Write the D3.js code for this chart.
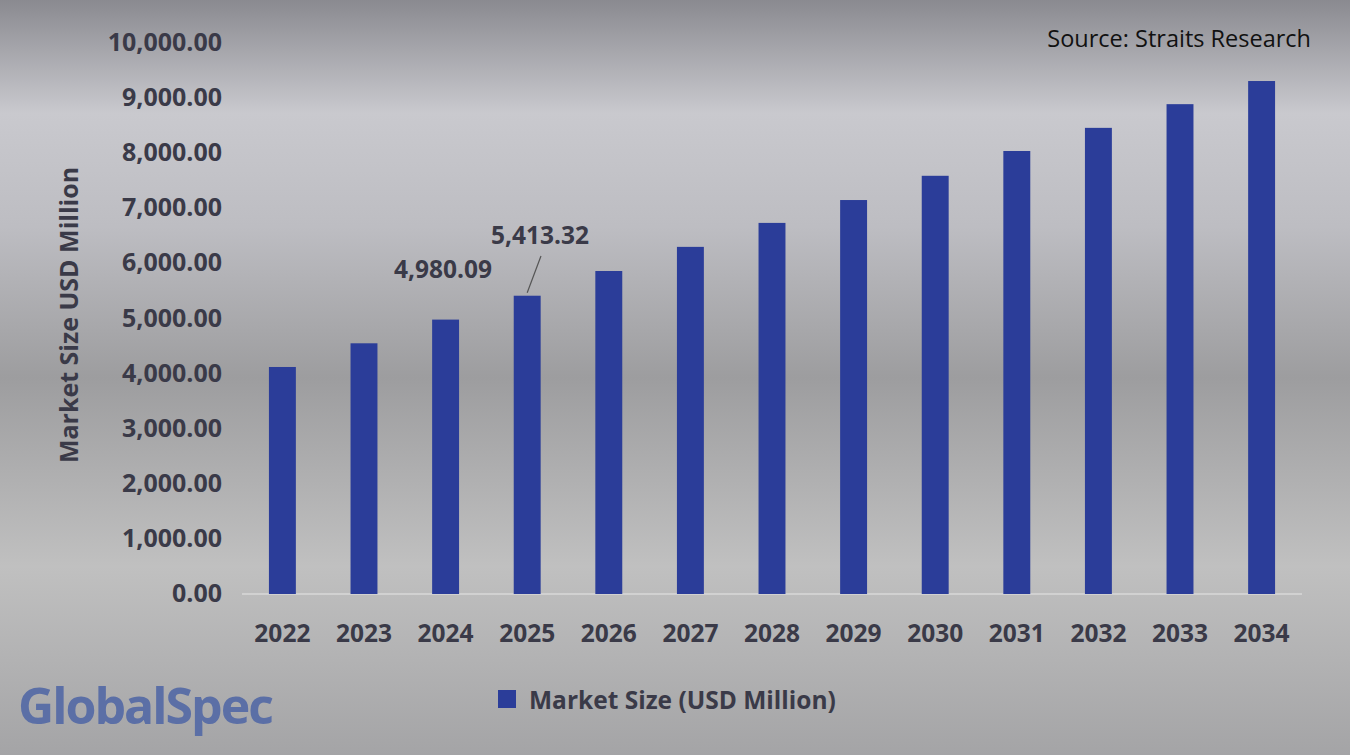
<!DOCTYPE html>
<html><head><meta charset="utf-8">
<script src="https://cdn.jsdelivr.net/npm/d3@7"></script>
<style>body{margin:0;overflow:hidden}</style>
</head><body>
<script>
var years = ["2022","2023","2024","2025","2026","2027","2028","2029","2030","2031","2032","2033","2034"];
var values = [4120, 4550, 4980.09, 5413.32, 5862, 6300, 6735, 7150, 7590, 8040, 8460, 8890, 9310];
var yTicks = [0,1000,2000,3000,4000,5000,6000,7000,8000,9000,10000];

var w = 1350, h = 755;
var svg = d3.select("body").append("svg").attr("width", w).attr("height", h)
    .style("font-family", "'Open Sans', sans-serif");

//background gradient
var g = svg.append("defs").append("linearGradient").attr("id","bg").attr("x1",0).attr("y1",0).attr("x2",0).attr("y2",1);
[[0,"#8a8a90"],[0.15,"#c9c9ce"],[0.3,"#bdbdc2"],[0.5,"#9d9d9f"],[0.75,"#c0c0c0"],[1,"#a4a4a6"]].forEach(function(s){
    g.append("stop").attr("offset", s[0]).attr("stop-color", s[1]);
});
svg.append("rect").attr("width", w).attr("height", h).attr("fill","url(#bg)");

var x = d3.scaleBand().domain(years).range([242, 1302]).paddingInner(0.67).paddingOuter(0.33);
var y = d3.scaleLinear().domain([0, 10000]).range([594, 43]);

//axis baseline
svg.append("line").attr("x1",242).attr("x2",1302).attr("y1",y(0)).attr("y2",y(0))
    .attr("stroke","#d8d8d8").attr("stroke-width",1.5);

svg.selectAll(".bar").data(values).enter().append("rect")
    .attr("x", function(d,i){ return x(years[i]); })
    .attr("width", x.bandwidth())
    .attr("y", function(d){ return y(d); })
    .attr("height", function(d){ return y(0) - y(d); })
    .attr("fill", "#2b3d99");

var fmt = d3.format(",.2f");
svg.selectAll(".yt").data(yTicks).enter().append("text")
    .attr("x", 222).attr("y", function(d){ return y(d) + 8; })
    .attr("text-anchor","end").attr("font-size",25).attr("font-weight","bold").attr("fill","#3a3a48")
    .text(function(d){ return fmt(d); });

svg.selectAll(".xt").data(years).enter().append("text")
    .attr("x", function(d){ return x(d) + x.bandwidth()/2; }).attr("y", 642)
    .attr("text-anchor","middle").attr("font-size",24.5).attr("font-weight","bold").attr("fill","#3a3a48")
    .text(function(d){ return d; });

svg.append("text").attr("transform","translate(78,315) rotate(-90)").attr("text-anchor","middle")
    .attr("font-size",25).attr("font-weight","bold").attr("fill","#3a3a48").text("Market Size USD Million");

//data labels
svg.append("text").attr("x", 443).attr("y", 278).attr("text-anchor","middle")
    .attr("font-size",24.5).attr("font-weight","bold").attr("fill","#3a3a48").text(fmt(values[2]));
svg.append("text").attr("x", 540).attr("y", 244).attr("text-anchor","middle")
    .attr("font-size",24.5).attr("font-weight","bold").attr("fill","#3a3a48").text(fmt(values[3]));
svg.append("line").attr("x1",541).attr("y1",256).attr("x2", x("2025") + x.bandwidth()/2).attr("y2", y(values[3]) - 3)
    .attr("stroke","#555").attr("stroke-width",1.2);

//legend
svg.append("rect").attr("x",498).attr("y",690).attr("width",18).attr("height",18).attr("fill","#2b3d99");
svg.append("text").attr("x",529).attr("y",709).attr("font-size",24.5).attr("font-weight","bold").attr("fill","#3a3a48")
    .text("Market Size (USD Million)");

svg.append("text").attr("x",1311).attr("y",47).attr("text-anchor","end").attr("font-size",23.5).attr("fill","#111")
    .text("Source: Straits Research");

svg.append("text").attr("x",18).attr("y",724).attr("font-size",50).attr("font-weight","bold").attr("fill","#5b6fa6")
    .attr("letter-spacing",-2).text("GlobalSpec");
</script>
</body></html>
